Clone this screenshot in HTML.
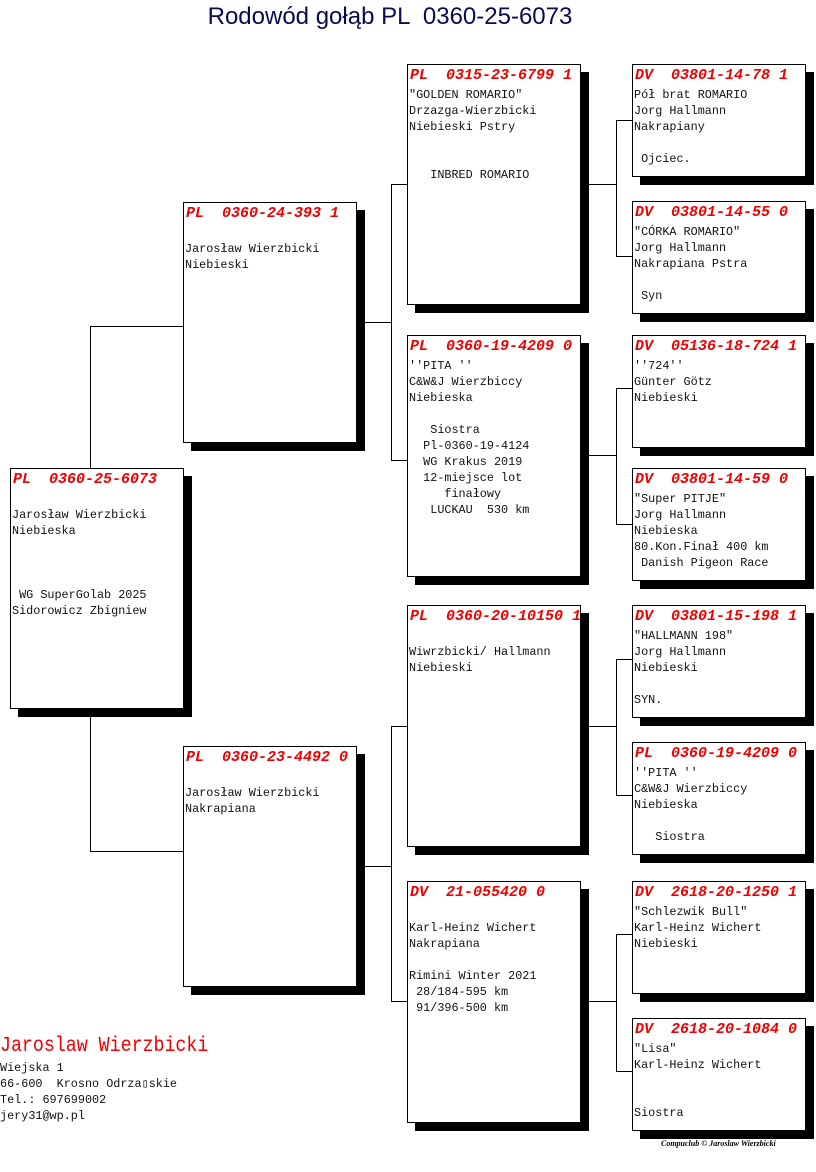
<!DOCTYPE html>
<html><head><meta charset="utf-8"><style>
body{margin:0;width:816px;height:1172px;background:#fff;position:relative;overflow:hidden;font-family:"Liberation Mono",monospace;}
.b{position:absolute;width:172px;border:1px solid #000;background:#fff;box-shadow:8px 8px 0 #000;overflow:visible;}
.h{position:absolute;left:2px;top:1px;height:20px;line-height:20px;color:#e00;font-weight:bold;font-style:italic;font-size:15px;white-space:pre;}
pre{position:absolute;left:1px;top:22px;margin:0;font-family:"Liberation Mono",monospace;font-size:11.8px;line-height:16px;color:#111;}
.l{position:absolute;background:#000;}
</style></head><body>
<div style="position:absolute;left:0;width:780px;top:3px;text-align:center;font-family:'Liberation Sans',sans-serif;font-size:24px;color:#0a0a50;white-space:pre">Rodowód gołąb PL  0360-25-6073</div>

<!-- connectors -->
<div class="l" style="left:90px;top:326px;width:1px;height:142px"></div>
<div class="l" style="left:90px;top:326px;width:93px;height:1px"></div>
<div class="l" style="left:90px;top:709px;width:1px;height:142px"></div>
<div class="l" style="left:90px;top:851px;width:93px;height:1px"></div>

<div class="l" style="left:365px;top:322px;width:26px;height:1px"></div>
<div class="l" style="left:391px;top:184px;width:1px;height:277px"></div>
<div class="l" style="left:391px;top:184px;width:16px;height:1px"></div>
<div class="l" style="left:391px;top:460px;width:16px;height:1px"></div>

<div class="l" style="left:365px;top:866px;width:26px;height:1px"></div>
<div class="l" style="left:391px;top:726px;width:1px;height:276px"></div>
<div class="l" style="left:391px;top:726px;width:16px;height:1px"></div>
<div class="l" style="left:391px;top:1001px;width:16px;height:1px"></div>

<div class="l" style="left:589px;top:184px;width:27px;height:1px"></div>
<div class="l" style="left:616px;top:120px;width:1px;height:137px"></div>
<div class="l" style="left:616px;top:120px;width:16px;height:1px"></div>
<div class="l" style="left:616px;top:256px;width:16px;height:1px"></div>

<div class="l" style="left:589px;top:455px;width:27px;height:1px"></div>
<div class="l" style="left:616px;top:388px;width:1px;height:136px"></div>
<div class="l" style="left:616px;top:388px;width:16px;height:1px"></div>
<div class="l" style="left:616px;top:524px;width:16px;height:1px"></div>

<div class="l" style="left:589px;top:726px;width:27px;height:1px"></div>
<div class="l" style="left:616px;top:659px;width:1px;height:137px"></div>
<div class="l" style="left:616px;top:659px;width:16px;height:1px"></div>
<div class="l" style="left:616px;top:795px;width:16px;height:1px"></div>

<div class="l" style="left:589px;top:1001px;width:27px;height:1px"></div>
<div class="l" style="left:616px;top:934px;width:1px;height:138px"></div>
<div class="l" style="left:616px;top:934px;width:16px;height:1px"></div>
<div class="l" style="left:616px;top:1071px;width:16px;height:1px"></div>

<!-- subject -->
<div class="b" style="left:10px;top:468px;height:239px"><div class="h">PL  0360-25-6073</div><pre>

Jarosław Wierzbicki
Niebieska



 WG SuperGolab 2025
Sidorowicz Zbigniew</pre></div>

<!-- gen2 -->
<div class="b" style="left:183px;top:202px;height:239px"><div class="h">PL  0360-24-393 1</div><pre>

Jarosław Wierzbicki
Niebieski</pre></div>
<div class="b" style="left:183px;top:746px;height:239px"><div class="h">PL  0360-23-4492 0</div><pre>

Jarosław Wierzbicki
Nakrapiana</pre></div>

<!-- gen3 -->
<div class="b" style="left:407px;top:64px;height:239px"><div class="h">PL  0315-23-6799 1</div><pre>"GOLDEN ROMARIO"
Drzazga-Wierzbicki
Niebieski Pstry


   INBRED ROMARIO</pre></div>
<div class="b" style="left:407px;top:335px;height:240px"><div class="h">PL  0360-19-4209 0</div><pre>''PITA ''
C&amp;W&amp;J Wierzbiccy
Niebieska

   Siostra
  Pl-0360-19-4124
  WG Krakus 2019
  12-miejsce lot
     finałowy
   LUCKAU  530 km</pre></div>
<div class="b" style="left:407px;top:605px;height:240px"><div class="h">PL  0360-20-10150 1</div><pre>

Wiwrzbicki/ Hallmann
Niebieski</pre></div>
<div class="b" style="left:407px;top:881px;height:240px"><div class="h">DV  21-055420 0</div><pre>

Karl-Heinz Wichert
Nakrapiana

Rimini Winter 2021
 28/184-595 km
 91/396-500 km</pre></div>

<!-- gen4 -->
<div class="b" style="left:632px;top:64px;height:111px"><div class="h">DV  03801-14-78 1</div><pre>Pół brat ROMARIO
Jorg Hallmann
Nakrapiany

 Ojciec.</pre></div>
<div class="b" style="left:632px;top:201px;height:111px"><div class="h">DV  03801-14-55 0</div><pre>"CÓRKA ROMARIO"
Jorg Hallmann
Nakrapiana Pstra

 Syn</pre></div>
<div class="b" style="left:632px;top:335px;height:111px"><div class="h">DV  05136-18-724 1</div><pre>''724''
Günter Götz
Niebieski</pre></div>
<div class="b" style="left:632px;top:468px;height:111px"><div class="h">DV  03801-14-59 0</div><pre>"Super PITJE"
Jorg Hallmann
Niebieska
80.Kon.Finał 400 km
 Danish Pigeon Race</pre></div>
<div class="b" style="left:632px;top:605px;height:111px"><div class="h">DV  03801-15-198 1</div><pre>"HALLMANN 198"
Jorg Hallmann
Niebieski

SYN.</pre></div>
<div class="b" style="left:632px;top:742px;height:111px"><div class="h">PL  0360-19-4209 0</div><pre>''PITA ''
C&amp;W&amp;J Wierzbiccy
Niebieska

   Siostra</pre></div>
<div class="b" style="left:632px;top:881px;height:111px"><div class="h">DV  2618-20-1250 1</div><pre>"Schlezwik Bull"
Karl-Heinz Wichert
Niebieski</pre></div>
<div class="b" style="left:632px;top:1018px;height:111px"><div class="h">DV  2618-20-1084 0</div><pre>"Lisa"
Karl-Heinz Wichert


Siostra</pre></div>

<!-- footer -->
<div style="position:absolute;left:0;top:1035px;color:#e00;font-size:21px;line-height:24px;white-space:pre;transform:scaleX(0.87);transform-origin:0 0">Jaroslaw Wierzbicki</div>
<pre style="left:0;top:1060px;">Wiejska 1
66-600  Krosno Odrza▯skie
Tel.: 697699002
jery31@wp.pl</pre>
<div style="position:absolute;left:661px;top:1139px;font-family:'Liberation Serif',serif;font-size:8px;font-weight:bold;font-style:italic;white-space:pre">Compuclub © Jaroslaw Wierzbicki</div>
</body></html>
